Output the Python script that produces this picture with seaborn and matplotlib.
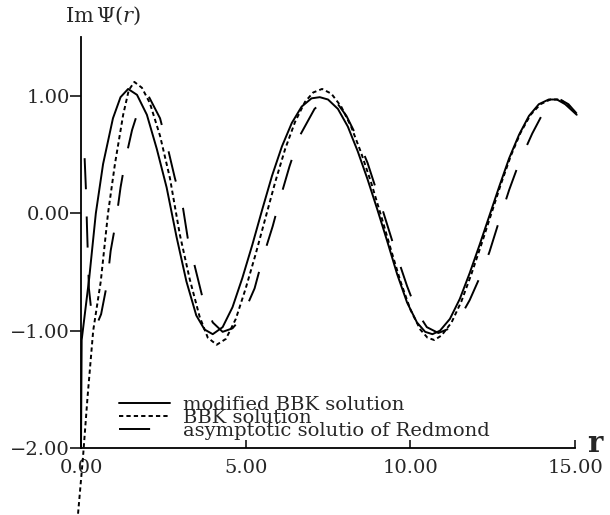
import numpy as np
import pandas as pd
import seaborn as sns
import matplotlib.pyplot as plt
from matplotlib.ticker import FuncFormatter

# modified BBK solution (solid)
r_mod = [0.0, 0.02, 0.12, 0.25, 0.45, 0.67, 0.97, 1.2, 1.43, 1.7, 2.0, 2.3, 2.6,
         2.9, 3.2, 3.5, 3.75, 4.0, 4.3, 4.6, 4.9, 5.2, 5.5, 5.8, 6.1, 6.4, 6.7,
         7.0, 7.25, 7.5, 7.8, 8.1, 8.4, 8.7, 9.0, 9.3, 9.6, 9.9, 10.2, 10.45,
         10.67, 10.9, 11.2, 11.5, 11.8, 12.1, 12.4, 12.7, 13.0, 13.3, 13.6,
         13.9, 14.2, 14.45, 14.7, 15.05]
im_mod = [-2.0, -1.08, -0.85, -0.55, 0.0, 0.42, 0.81, 0.99, 1.06, 1.01, 0.84,
          0.55, 0.22, -0.2, -0.58, -0.87, -0.99, -1.03, -0.97, -0.8, -0.55,
          -0.27, 0.03, 0.32, 0.57, 0.77, 0.91, 0.98, 0.99, 0.97, 0.89, 0.74,
          0.53, 0.29, 0.03, -0.24, -0.52, -0.76, -0.93, -1.01, -1.03, -1.0,
          -0.9, -0.73, -0.51, -0.27, -0.02, 0.23, 0.47, 0.67, 0.83, 0.93, 0.97,
          0.97, 0.93, 0.84]

# BBK solution (short dashes)
r_bbk = [-0.09, 0.06, 0.2, 0.37, 0.6, 0.82, 1.03, 1.28, 1.45, 1.62, 1.85, 2.09,
         2.4, 2.7, 3.0, 3.3, 3.6, 3.85, 4.12, 4.4, 4.7, 5.0, 5.3, 5.6, 5.9, 6.2,
         6.5, 6.8, 7.05, 7.32, 7.6, 7.9, 8.2, 8.5, 8.8, 9.1, 9.4, 9.7, 10.0,
         10.3, 10.52, 10.73, 10.95, 11.25, 11.55, 11.85, 12.15, 12.45, 12.75,
         13.05, 13.35, 13.65, 13.95, 14.25, 14.55, 14.8, 15.08]
im_bbk = [-2.56, -2.08, -1.56, -1.0, -0.58, 0.0, 0.42, 0.84, 1.05, 1.12, 1.07,
          0.94, 0.66, 0.3, -0.18, -0.56, -0.88, -1.06, -1.12, -1.07, -0.9,
          -0.64, -0.35, -0.04, 0.27, 0.55, 0.78, 0.95, 1.03, 1.06, 1.02, 0.91,
          0.74, 0.52, 0.27, -0.01, -0.3, -0.58, -0.82, -0.99, -1.06, -1.08,
          -1.04, -0.93, -0.75, -0.52, -0.27, -0.01, 0.25, 0.49, 0.69, 0.84,
          0.93, 0.97, 0.97, 0.92, 0.84]

# asymptotic solution of Redmond (long dashes)
r_asy = [0.11, 0.15, 0.18, 0.21, 0.24, 0.34, 0.46, 0.61, 0.79, 0.9, 1.06, 1.2,
         1.35, 1.55, 1.8, 2.05, 2.4, 2.64, 2.85, 3.1, 3.24, 3.48, 3.7, 4.0, 4.3,
         4.6, 4.88, 5.27, 5.52, 5.82, 6.06, 6.33, 6.64, 7.09, 7.45, 7.75, 8.06,
         8.36, 8.7, 9.0, 9.3, 9.6, 9.9, 10.2, 10.5, 10.85, 11.2, 11.5, 11.8,
         12.1, 12.4, 12.7, 13.0, 13.3, 13.7, 14.0, 14.3, 14.55, 14.8, 15.05]
im_asy = [0.47, 0.2, -0.1, -0.37, -0.64, -0.9, -0.96, -0.86, -0.6, -0.32, -0.07,
          0.22, 0.46, 0.71, 0.93, 1.0, 0.81, 0.55, 0.3, 0.04, -0.21, -0.48,
          -0.73, -0.93, -1.01, -0.98, -0.89, -0.64, -0.38, -0.11, 0.14, 0.4,
          0.66, 0.89, 0.98, 0.95, 0.83, 0.66, 0.43, 0.17, -0.1, -0.37, -0.62,
          -0.84, -0.97, -1.02, -0.98, -0.89, -0.74, -0.55, -0.33, -0.06, 0.2,
          0.43, 0.68, 0.84, 0.94, 0.97, 0.93, 0.85]

labels = ["modified BBK solution", "BBK solution", "asymptotic solutio of Redmond"]
x_ticks = [0, 5, 10, 15]
y_ticks = [-2, -1, 0, 1]

sns.set_style("white")
plt.rcParams['font.family'] = ['DejaVu Serif']
plt.rcParams['mathtext.fontset'] = 'dejavuserif'

fig = plt.figure(figsize=(6.1, 5.15), dpi=100)
ax = fig.add_axes([0.1166, -0.0066, 0.8423, 0.9569])

df_mod = pd.DataFrame({"r": r_mod, "im": im_mod})
df_bbk = pd.DataFrame({"r": r_bbk, "im": im_bbk})
df_asy = pd.DataFrame({"r": r_asy, "im": im_asy})

sns.lineplot(data=df_mod, x="r", y="im", ax=ax, color="black", lw=1.4,
             linestyle="-", label=labels[0])
sns.lineplot(data=df_bbk, x="r", y="im", ax=ax, color="black", lw=1.4,
             linestyle=(0, (2.2, 1.6)), label=labels[1])
sns.lineplot(data=df_asy, x="r", y="im", ax=ax, color="black", lw=1.4,
             linestyle=(0, (16, 14)), label=labels[2])

ax.set_xlim(-0.3, 15.3)
ax.set_ylim(-2.6, 1.6)
ax.set_xlabel("")
ax.set_ylabel("")

for s in ["top", "right"]:
    ax.spines[s].set_visible(False)
ax.spines["left"].set_bounds(-2, 1.5)
ax.spines["bottom"].set_bounds(0, 15)
ax.spines["left"].set_position(("data", 0))
ax.spines["bottom"].set_position(("data", -2))
for s in ["left", "bottom"]:
    ax.spines[s].set_linewidth(1.3)
    ax.spines[s].set_color("black")

fmt = FuncFormatter(lambda v, pos: f"{v:.2f}".replace("-", "\u2212"))
ax.set_xticks(x_ticks)
ax.set_yticks(y_ticks)
ax.xaxis.set_major_formatter(fmt)
ax.yaxis.set_major_formatter(fmt)
ax.tick_params(axis="y", direction="out", length=8, width=1.3, pad=0,
               labelsize=14, left=True)
ax.tick_params(axis="x", direction="in", length=6, width=1.3, pad=8,
               labelsize=14, bottom=True)

leg = ax.legend(loc="lower left", bbox_to_anchor=(0.075, 0.14), frameon=False,
                fontsize=14, labelspacing=-0.26, handlelength=2.6,
                handletextpad=0.65, borderpad=0)

fig.text(103 / 610, 1 - 16 / 515, r"$\mathrm{Im}\,\Psi(r)$", ha="center",
         va="center", fontsize=15)
fig.text(595 / 610, 1 - 443 / 515, "r", ha="center", va="center",
         fontsize=21, fontweight="bold")

fig.savefig("out.png", dpi=100)
